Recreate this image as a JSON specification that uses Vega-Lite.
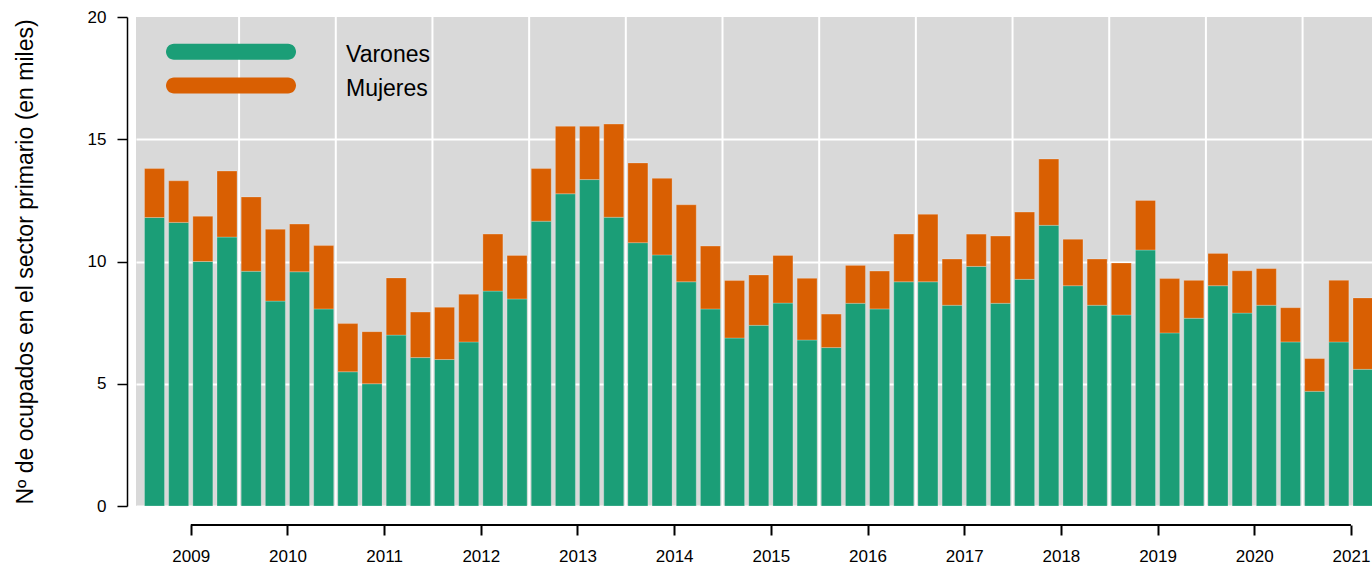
{
  "$schema": "https://vega.github.io/schema/vega-lite/v6.json",
  "width": 1236,
  "height": 489,
  "autosize": {"type": "none"},
  "padding": {"left": 136, "top": 17, "right": 0, "bottom": 59},
  "background": "white",
  "config": {
    "font": "Liberation Sans",
    "view": {"fill": "#d9d9d9", "stroke": null},
    "axis": {"labelFont": "Liberation Sans", "titleFont": "Liberation Sans", "labelColor": "black", "tickColor": "black", "domainColor": "black", "titleColor": "black"},
    "legend": {"labelFont": "Liberation Sans"}
  },
  "datasets": {
    "ocupados": [
      {"periodo": "2009T1", "t": 2009.125, "Varones": 11.8, "Mujeres": 2.0},
      {"periodo": "2009T2", "t": 2009.375, "Varones": 11.6, "Mujeres": 1.7},
      {"periodo": "2009T3", "t": 2009.625, "Varones": 10.0, "Mujeres": 1.85},
      {"periodo": "2009T4", "t": 2009.875, "Varones": 11.0, "Mujeres": 2.7},
      {"periodo": "2010T1", "t": 2010.125, "Varones": 9.6, "Mujeres": 3.04},
      {"periodo": "2010T2", "t": 2010.375, "Varones": 8.38, "Mujeres": 2.94},
      {"periodo": "2010T3", "t": 2010.625, "Varones": 9.58, "Mujeres": 1.95},
      {"periodo": "2010T4", "t": 2010.875, "Varones": 8.06, "Mujeres": 2.59},
      {"periodo": "2011T1", "t": 2011.125, "Varones": 5.49, "Mujeres": 1.97},
      {"periodo": "2011T2", "t": 2011.375, "Varones": 5.0, "Mujeres": 2.13},
      {"periodo": "2011T3", "t": 2011.625, "Varones": 6.99, "Mujeres": 2.34},
      {"periodo": "2011T4", "t": 2011.875, "Varones": 6.07, "Mujeres": 1.86},
      {"periodo": "2012T1", "t": 2012.125, "Varones": 5.99, "Mujeres": 2.14},
      {"periodo": "2012T2", "t": 2012.375, "Varones": 6.71, "Mujeres": 1.95},
      {"periodo": "2012T3", "t": 2012.625, "Varones": 8.79, "Mujeres": 2.33},
      {"periodo": "2012T4", "t": 2012.875, "Varones": 8.47, "Mujeres": 1.78},
      {"periodo": "2013T1", "t": 2013.125, "Varones": 11.65, "Mujeres": 2.15},
      {"periodo": "2013T2", "t": 2013.375, "Varones": 12.77, "Mujeres": 2.76},
      {"periodo": "2013T3", "t": 2013.625, "Varones": 13.35, "Mujeres": 2.18},
      {"periodo": "2013T4", "t": 2013.875, "Varones": 11.81, "Mujeres": 3.81},
      {"periodo": "2014T1", "t": 2014.125, "Varones": 10.77, "Mujeres": 3.26},
      {"periodo": "2014T2", "t": 2014.375, "Varones": 10.27, "Mujeres": 3.13},
      {"periodo": "2014T3", "t": 2014.625, "Varones": 9.17, "Mujeres": 3.15},
      {"periodo": "2014T4", "t": 2014.875, "Varones": 8.06, "Mujeres": 2.57},
      {"periodo": "2015T1", "t": 2015.125, "Varones": 6.87, "Mujeres": 2.35},
      {"periodo": "2015T2", "t": 2015.375, "Varones": 7.39, "Mujeres": 2.06},
      {"periodo": "2015T3", "t": 2015.625, "Varones": 8.3, "Mujeres": 1.95},
      {"periodo": "2015T4", "t": 2015.875, "Varones": 6.79, "Mujeres": 2.52},
      {"periodo": "2016T1", "t": 2016.125, "Varones": 6.48, "Mujeres": 1.37},
      {"periodo": "2016T2", "t": 2016.375, "Varones": 8.29, "Mujeres": 1.55},
      {"periodo": "2016T3", "t": 2016.625, "Varones": 8.06, "Mujeres": 1.55},
      {"periodo": "2016T4", "t": 2016.875, "Varones": 9.17, "Mujeres": 1.95},
      {"periodo": "2017T1", "t": 2017.125, "Varones": 9.17, "Mujeres": 2.76},
      {"periodo": "2017T2", "t": 2017.375, "Varones": 8.21, "Mujeres": 1.89},
      {"periodo": "2017T3", "t": 2017.625, "Varones": 9.8, "Mujeres": 1.32},
      {"periodo": "2017T4", "t": 2017.875, "Varones": 8.29, "Mujeres": 2.75},
      {"periodo": "2018T1", "t": 2018.125, "Varones": 9.27, "Mujeres": 2.75},
      {"periodo": "2018T2", "t": 2018.375, "Varones": 11.48, "Mujeres": 2.71},
      {"periodo": "2018T3", "t": 2018.625, "Varones": 9.01, "Mujeres": 1.9},
      {"periodo": "2018T4", "t": 2018.875, "Varones": 8.21, "Mujeres": 1.89},
      {"periodo": "2019T1", "t": 2019.125, "Varones": 7.81, "Mujeres": 2.13},
      {"periodo": "2019T2", "t": 2019.375, "Varones": 10.47, "Mujeres": 2.03},
      {"periodo": "2019T3", "t": 2019.625, "Varones": 7.08, "Mujeres": 2.22},
      {"periodo": "2019T4", "t": 2019.875, "Varones": 7.68, "Mujeres": 1.55},
      {"periodo": "2020T1", "t": 2020.125, "Varones": 9.01, "Mujeres": 1.32},
      {"periodo": "2020T2", "t": 2020.375, "Varones": 7.89, "Mujeres": 1.73},
      {"periodo": "2020T3", "t": 2020.625, "Varones": 8.21, "Mujeres": 1.5},
      {"periodo": "2020T4", "t": 2020.875, "Varones": 6.71, "Mujeres": 1.4},
      {"periodo": "2021T1", "t": 2021.125, "Varones": 4.69, "Mujeres": 1.34},
      {"periodo": "2021T2", "t": 2021.375, "Varones": 6.71, "Mujeres": 2.52},
      {"periodo": "2021T3", "t": 2021.625, "Varones": 5.59, "Mujeres": 2.92}
    ],
    "rejilla": [
      {"anio": 2010}, {"anio": 2011}, {"anio": 2012}, {"anio": 2013}, {"anio": 2014}, {"anio": 2015},
      {"anio": 2016}, {"anio": 2017}, {"anio": 2018}, {"anio": 2019}, {"anio": 2020}, {"anio": 2021}
    ]
  },
  "layer": [
    {
      "data": {"name": "rejilla"},
      "mark": {"type": "rule", "color": "white", "strokeWidth": 2},
      "encoding": {
        "x": {"field": "anio", "type": "quantitative", "scale": {"domain": [2008.9336, 2021.718], "nice": false, "zero": false, "padding": 0}, "title": null}
      }
    },
    {
      "data": {"name": "ocupados"},
      "transform": [{"fold": ["Varones", "Mujeres"], "as": ["sexo", "miles"]}],
      "mark": {"type": "bar", "width": 20, "stroke": "white", "strokeOpacity": 0.3, "strokeWidth": 0.8},
      "encoding": {
        "x": {
          "field": "t", "type": "quantitative", "title": null,
          "scale": {"domain": [2008.9336, 2021.718], "nice": false, "zero": false, "padding": 0},
          "axis": {
            "values": [2009.5, 2010.5, 2011.5, 2012.5, 2013.5, 2014.5, 2015.5, 2016.5, 2017.5, 2018.5, 2019.5, 2020.5, 2021.5],
            "labelExpr": "format(floor(datum.value), 'd')",
            "title": null, "domain": false, "grid": false,
            "tickSize": 10, "tickWidth": 2, "offset": 19,
            "labelFontSize": 17, "labelPadding": 13, "labelFlush": false, "labelOverlap": false
          }
        },
        "y": {
          "field": "miles", "type": "quantitative", "stack": "zero",
          "title": "Nº de ocupados en el sector primario (en miles)",
          "scale": {"domain": [0, 20], "nice": false, "padding": 0},
          "axis": {
            "values": [0, 5, 10, 15, 20], "format": "d",
            "title": "Nº de ocupados en el sector primario (en miles)",
            "titleFontSize": 23, "titleFontWeight": "normal", "titlePadding": 50,
            "labelFontSize": 17, "labelPadding": 11, "tickSize": 10, "tickWidth": 1.5,
            "domainWidth": 1.5, "offset": 9,
            "grid": true, "gridColor": "white", "gridWidth": 2,
            "gridOpacity": {"condition": {"test": "datum.value === 20", "value": 0}, "value": 1},
            "labelFlush": false, "labelOverlap": false
          }
        },
        "color": {
          "field": "sexo", "type": "nominal", "sort": ["Varones", "Mujeres"],
          "scale": {"domain": ["Varones", "Mujeres"], "range": ["#1b9e77", "#d95f02"]},
          "legend": {
            "title": null, "orient": "none", "legendX": 30, "legendY": 25.4, "padding": 0,
            "symbolType": "M-0.877,-0.178L0.877,-0.178C0.945,-0.178,1,-0.123,1,-0.055C1,0.013,0.945,0.068,0.877,0.068L-0.877,0.068C-0.945,0.068,-1,0.013,-1,-0.055C-1,-0.123,-0.945,-0.178,-0.877,-0.178Z",
            "symbolSize": 16900, "symbolStrokeWidth": 0, "symbolOpacity": 1,
            "clipHeight": 26, "rowPadding": 7.7, "labelOffset": 50,
            "labelFontSize": 23, "labelColor": "black", "labelBaseline": "middle", "labelLimit": 300
          }
        },
        "order": {"field": "sexo", "sort": "descending"}
      }
    },
    {
      "data": {"values": [{}]},
      "mark": {"type": "rule", "color": "black", "strokeWidth": 2},
      "encoding": {
        "x": {"datum": 2009.5, "type": "quantitative", "title": null, "scale": {"domain": [2008.9336, 2021.718], "nice": false, "zero": false, "padding": 0}},
        "x2": {"datum": 2021.5},
        "y": {"datum": -0.777, "type": "quantitative", "title": "Nº de ocupados en el sector primario (en miles)", "scale": {"domain": [0, 20], "nice": false, "padding": 0}}
      }
    }
  ]
}
